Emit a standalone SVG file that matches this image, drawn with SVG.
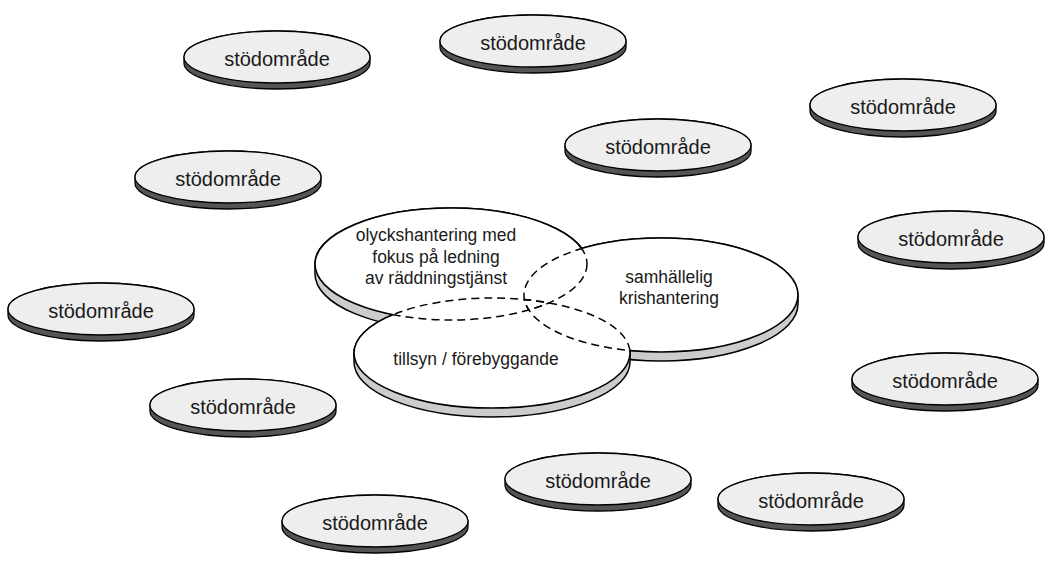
<svg xmlns="http://www.w3.org/2000/svg" xmlns:xlink="http://www.w3.org/1999/xlink" width="1048" height="561" viewBox="0 0 1048 561">
<style>
.sband{fill:#555;stroke:#000;stroke-width:1.3}
.sface{fill:#eeeeee;stroke:#000;stroke-width:1.3}
.sl{font-family:"Liberation Sans",Arial,sans-serif;font-size:20px;fill:#1a1a1a;text-anchor:middle}
.bband{fill:#cccccc;stroke:#000;stroke-width:1.5}
.bface{fill:#fff;stroke:none}
.solid{fill:none;stroke:#000;stroke-width:1.6}
.dash{fill:none;stroke:#000;stroke-width:1.5;stroke-dasharray:8 5}
.bl{font-family:"Liberation Sans",Arial,sans-serif;font-size:17.5px;fill:#1a1a1a;text-anchor:middle}
</style>
<defs>
<g id="disc">
<path class="sband" d="M-93 0 A93 26 0 0 1 93 0 V6 A93 26 0 0 1 -93 6 Z"/>
<ellipse class="sface" cx="0" cy="0" rx="93" ry="26"/>
</g>
<ellipse id="eA" cx="451" cy="264" rx="136" ry="56"/>
<ellipse id="eB" cx="492" cy="353" rx="138" ry="55"/>
<ellipse id="eC" cx="661" cy="295" rx="137" ry="57"/>
<clipPath id="inA"><use xlink:href="#eA"/></clipPath>
<clipPath id="inB"><use xlink:href="#eB"/></clipPath>
<clipPath id="inC"><use xlink:href="#eC"/></clipPath>
<clipPath id="outA"><path clip-rule="evenodd" d="M0 0H1048V561H0Z M315 264a136 56 0 1 0 272 0a136 56 0 1 0 -272 0Z"/></clipPath>
<clipPath id="outB"><path clip-rule="evenodd" d="M0 0H1048V561H0Z M354 353a138 55 0 1 0 276 0a138 55 0 1 0 -276 0Z"/></clipPath>
<clipPath id="outC"><path clip-rule="evenodd" d="M0 0H1048V561H0Z M524 295a137 57 0 1 0 274 0a137 57 0 1 0 -274 0Z"/></clipPath>
</defs>

<g id="support-areas">
<g id="s1" transform="translate(277,57)"><use xlink:href="#disc"/><text class="sl" y="9">stödområde</text></g>
<g id="s2" transform="translate(533,41)"><use xlink:href="#disc"/><text class="sl" y="9">stödområde</text></g>
<g id="s3" transform="translate(903,105)"><use xlink:href="#disc"/><text class="sl" y="9">stödområde</text></g>
<g id="s4" transform="translate(658,145)"><use xlink:href="#disc"/><text class="sl" y="9">stödområde</text></g>
<g id="s5" transform="translate(228,177)"><use xlink:href="#disc"/><text class="sl" y="9">stödområde</text></g>
<g id="s6" transform="translate(951,237)"><use xlink:href="#disc"/><text class="sl" y="9">stödområde</text></g>
<g id="s7" transform="translate(101,309)"><use xlink:href="#disc"/><text class="sl" y="9">stödområde</text></g>
<g id="s8" transform="translate(945,379)"><use xlink:href="#disc"/><text class="sl" y="9">stödområde</text></g>
<g id="s9" transform="translate(243,405)"><use xlink:href="#disc"/><text class="sl" y="9">stödområde</text></g>
<g id="s10" transform="translate(598,479)"><use xlink:href="#disc"/><text class="sl" y="9">stödområde</text></g>
<g id="s11" transform="translate(811,499)"><use xlink:href="#disc"/><text class="sl" y="9">stödområde</text></g>
<g id="s12" transform="translate(375,521)"><use xlink:href="#disc"/><text class="sl" y="9">stödområde</text></g>
</g>

<g id="core-bands">
<path class="bband" d="M315 264 A136 56 0 0 1 587 264 V274 A136 56 0 0 1 315 274 Z"/>
<path class="bband" d="M524 295 A137 57 0 0 1 798 295 V304 A137 57 0 0 1 524 304 Z"/>
<path class="bband" d="M354 353 A138 55 0 0 1 630 353 V362 A138 55 0 0 1 354 362 Z"/>
</g>
<g id="core-faces">
<use xlink:href="#eA" class="bface"/>
<use xlink:href="#eB" class="bface"/>
<use xlink:href="#eC" class="bface"/>
</g>

<g id="node-A">
<g clip-path="url(#outB)"><use xlink:href="#eA" class="solid" clip-path="url(#outC)"/></g>
<use xlink:href="#eA" class="dash" clip-path="url(#inB)"/>
<use xlink:href="#eA" class="dash" clip-path="url(#inC)"/>
<text class="bl" x="436" y="241">olyckshantering med</text>
<text class="bl" x="436" y="263">fokus på ledning</text>
<text class="bl" x="436" y="284">av räddningstjänst</text>
</g>
<g id="node-C">
<g clip-path="url(#outA)"><use xlink:href="#eC" class="solid" clip-path="url(#outB)"/></g>
<use xlink:href="#eC" class="dash" clip-path="url(#inA)"/>
<use xlink:href="#eC" class="dash" clip-path="url(#inB)"/>
<text class="bl" x="669" y="283">samhällelig</text>
<text class="bl" x="669" y="304">krishantering</text>
</g>
<g id="node-B">
<g clip-path="url(#outA)"><use xlink:href="#eB" class="solid" clip-path="url(#outC)"/></g>
<use xlink:href="#eB" class="dash" clip-path="url(#inA)"/>
<use xlink:href="#eB" class="dash" clip-path="url(#inC)"/>
<text class="bl" x="476" y="365">tillsyn / förebyggande</text>
</g>
</svg>
